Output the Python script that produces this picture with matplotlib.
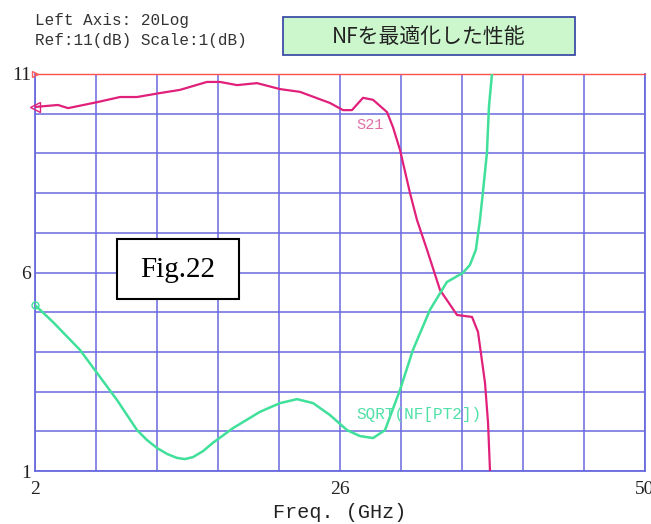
import numpy as np
import matplotlib
matplotlib.use('Agg')
import matplotlib.pyplot as plt
from matplotlib.patches import Rectangle

# Frequency axis range and tick values (GHz)
freq_min, freq_max = 2, 50
x_ticks = np.linspace(freq_min, freq_max, 11)
x_tick_labels = ['2', '', '', '', '', '26', '', '', '', '', '50']

# Left axis: 20Log, Ref 11 dB, 1 dB per division
y_min, y_max = 1, 11
y_ticks = np.arange(y_min, y_max + 1)
y_tick_labels = ['1', '', '', '', '', '6', '', '', '', '', '11']

# S21 trace
s21_freq = [2.0, 3.81, 4.60, 6.88, 8.69, 10.03, 11.84, 13.41, 15.53, 16.56,
            17.90, 19.47, 21.28, 22.85, 25.21, 26.24, 26.94, 27.81, 28.60,
            29.70, 30.17, 30.72, 31.51, 32.06, 32.85, 33.87, 35.21, 36.39,
            36.86, 37.41, 37.65, 37.80, 37.85]
s21_val = [10.17, 10.22, 10.14, 10.29, 10.42, 10.42, 10.52, 10.60, 10.80, 10.80,
           10.72, 10.77, 10.62, 10.55, 10.27, 10.09, 10.09, 10.40, 10.35,
           10.04, 9.66, 9.09, 8.00, 7.32, 6.57, 5.56, 4.93, 4.88,
           4.50, 3.22, 2.21, 1.03, 0.80]

# SQRT(NF[PT2]) trace
nf_freq = [2.0, 3.42, 5.54, 6.88, 8.45, 10.03, 10.81, 11.60, 12.39, 13.17,
           13.80, 14.43, 15.22, 16.00, 17.58, 19.70, 21.28, 22.62, 23.88,
           25.21, 26.55, 27.57, 28.60, 29.54, 30.72, 31.74, 33.08, 34.41,
           35.67, 36.22, 36.69, 37.01, 37.24, 37.56, 37.72, 37.95, 38.00]
nf_val = [5.18, 4.75, 4.05, 3.47, 2.79, 2.03, 1.78, 1.58, 1.43, 1.33,
          1.30, 1.35, 1.50, 1.71, 2.08, 2.49, 2.71, 2.81, 2.71,
          2.41, 2.03, 1.88, 1.83, 2.03, 3.04, 4.05, 5.06, 5.76,
          5.99, 6.19, 6.57, 7.32, 8.00, 9.01, 10.17, 10.97, 11.20]

W, H = 651, 524
fig = plt.figure(figsize=(W / 100, H / 100), dpi=100)
fig.patch.set_facecolor('white')

def fx(px):
    return px / W

def fy(py):
    return 1 - py / H

ax = fig.add_axes([fx(35), fy(471), fx(645) - fx(35), fy(74) - fy(471)])
ax.set_xlim(freq_min, freq_max)
ax.set_ylim(y_min, y_max)

grid_col = '#6a6ae0'
ax.set_xticks(x_ticks)
ax.set_xticklabels(x_tick_labels, fontsize=14, family='Liberation Serif')
ax.set_yticks(y_ticks)
ax.set_yticklabels(y_tick_labels, fontsize=14, family='Liberation Serif')
ax.tick_params(length=0, colors='#222222')
ax.tick_params(axis='x', pad=7)
ax.tick_params(axis='y', pad=3)
ax.grid(True, color=grid_col, linewidth=1.3, alpha=0.85)
for side in ['left', 'right', 'bottom']:
    ax.spines[side].set_color(grid_col)
    ax.spines[side].set_linewidth(1.3)
ax.spines['top'].set_color('#ff5050')
ax.spines['top'].set_linewidth(1.0)

pink = '#e0207a'
green = '#40e09a'
ax.plot(s21_freq, s21_val, color=pink, linewidth=1.6, zorder=3)
ax.plot(nf_freq, nf_val, color=green, linewidth=1.8, zorder=3)

# start-point markers
ax.plot([s21_freq[0]], [s21_val[0]], marker='<', markersize=7, markerfacecolor='none',
        markeredgecolor=pink, clip_on=False, zorder=4)
ax.plot([nf_freq[0]], [nf_val[0]], marker='o', markersize=5, markerfacecolor='none',
        markeredgecolor=green, clip_on=False, zorder=4)
ax.plot([freq_min], [y_max], marker='>', markersize=5, markerfacecolor='none',
        markeredgecolor='#ff6060', clip_on=False, zorder=4)

# trace names
ax.text(27.3, 9.72, 'S21', color='#e070a8', fontsize=11, family='Liberation Mono',
        va='center', ha='left', zorder=5)
ax.text(27.3, 2.42, 'SQRT(NF[PT2])', color='#50e0a8', fontsize=11.5, family='Liberation Mono',
        va='center', ha='left', zorder=5)

# header text
fig.text(fx(35), fy(21), 'Left Axis: 20Log', fontsize=11.5, family='Liberation Mono',
         color='#333333', va='center', ha='left')
fig.text(fx(35), fy(40), 'Ref:11(dB) Scale:1(dB)', fontsize=11.5, family='Liberation Mono',
         color='#333333', va='center', ha='left')

# title box
fig.patches.append(Rectangle((fx(283), fy(55)), fx(575) - fx(283), fy(17) - fy(55),
                             transform=fig.transFigure, facecolor='#ccf7cc',
                             edgecolor='#3040a0', linewidth=1.2))
fig.text(fx(429), fy(37), 'NFを最適化した性能', fontsize=15,
         family=['Noto Sans CJK JP', 'DejaVu Sans'], color='#222222',
         va='center', ha='center')

# figure number box
fig.patches.append(Rectangle((fx(117), fy(299)), fx(239) - fx(117), fy(239) - fy(299),
                             transform=fig.transFigure, facecolor='white',
                             edgecolor='black', linewidth=1.5, zorder=5))
fig.text(fx(178), fy(270), 'Fig.22', fontsize=21, family='Liberation Serif',
         color='black', va='center', ha='center', zorder=6)

# axis label
fig.text(fx(340), fy(512), 'Freq. (GHz)', fontsize=14.5, family='Liberation Mono',
         color='#222222', va='center', ha='center')

fig.savefig('out.png', dpi=100, facecolor='white')
